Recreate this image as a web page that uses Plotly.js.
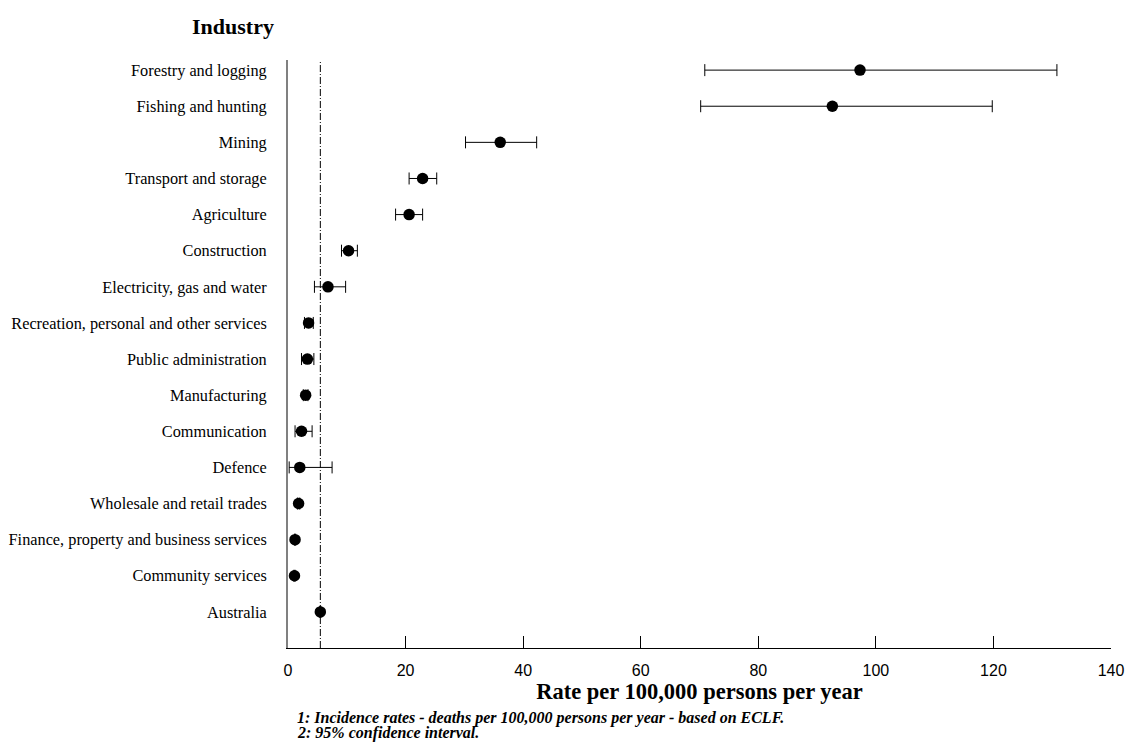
<!DOCTYPE html>
<html>
<head>
<meta charset="utf-8">
<script src="https://cdn.plot.ly/plotly-3.0.1.min.js"></script>
<style>
  html, body { margin: 0; padding: 0; background: #fff; }
  #chart { width: 1129px; height: 742px; }
</style>
</head>
<body>
<div id="chart"></div>
<script>
// Fatality incidence by industry, top to bottom as listed
const industries = [
  "Forestry and logging",
  "Fishing and hunting",
  "Mining",
  "Transport and storage",
  "Agriculture",
  "Construction",
  "Electricity, gas and water",
  "Recreation, personal and other services",
  "Public administration",
  "Manufacturing",
  "Communication",
  "Defence",
  "Wholesale and retail trades",
  "Finance, property and business services",
  "Community services",
  "Australia"
];
// Rate per 100,000 persons per year
const rates = [97.3, 92.6, 36.1, 22.9, 20.6, 10.3, 6.8, 3.5, 3.3, 3.0, 2.3, 2.0, 1.8, 1.2, 1.1, 5.5];
// 95% confidence interval bounds
const ciLower = [70.9, 70.2, 30.2, 20.6, 18.3, 9.1, 4.5, 2.8, 2.3, 2.6, 1.2, 0.2, 1.6, 1.1, 1.0, 5.4];
const ciUpper = [130.8, 119.8, 42.3, 25.3, 22.9, 11.8, 9.8, 4.3, 4.4, 3.4, 4.1, 7.5, 2.0, 1.3, 1.2, 5.6];
const xTicks = [0, 20, 40, 60, 80, 100, 120, 140];

const serif = "Liberation Serif, Times New Roman, serif";
const sans = "Liberation Sans, Arial, sans-serif";

const australiaRate = rates[industries.indexOf("Australia")];

const trace = {
  type: "scatter",
  mode: "markers",
  x: rates,
  y: industries,
  marker: { color: "#000", size: 11.5, line: { width: 0 } },
  error_x: {
    type: "data",
    symmetric: false,
    array: ciUpper.map((u, i) => u - rates[i]),
    arrayminus: ciLower.map((l, i) => rates[i] - l),
    color: "#000",
    thickness: 1,
    width: 6
  },
  hoverinfo: "x+y",
  showlegend: false
};

const layout = {
  width: 1129,
  height: 742,
  margin: { l: 288, r: 18, t: 60, b: 94 },
  paper_bgcolor: "#fff",
  plot_bgcolor: "#fff",
  xaxis: {
    range: [0, 140],
    tickvals: xTicks,
    ticktext: xTicks.map(String),
    ticks: "inside",
    ticklen: 12,
    tickwidth: 1,
    tickcolor: "#000",
    showline: true,
    linecolor: "#000",
    linewidth: 1,
    showgrid: false,
    zeroline: false,
    tickfont: { family: sans, size: 16, color: "#000" },
    ticklabelstandoff: 8,
    title: {
      text: "<b>Rate per 100,000 persons per year</b>",
      font: { family: serif, size: 22.5, color: "#000" },
      standoff: 2
    },
    automargin: false,
    fixedrange: true
  },
  yaxis: {
    type: "category",
    categoryorder: "array",
    categoryarray: industries.slice().reverse(),
    range: [-1, 15.28],
    showline: true,
    linecolor: "#808080",
    linewidth: 2,
    ticks: "",
    showgrid: false,
    zeroline: false,
    tickfont: { family: serif, size: 16.3, color: "#000" },
    ticklabelstandoff: 16,
    automargin: false,
    fixedrange: true
  },
  shapes: [{
    type: "line",
    xref: "x",
    yref: "paper",
    x0: australiaRate,
    x1: australiaRate,
    y0: 0,
    y1: 1,
    line: { color: "#000", width: 1, dash: "7px,2px,1px,2px" },
    layer: "below"
  }],
  annotations: [
    {
      text: "<b>Industry</b>",
      xref: "paper", yref: "paper",
      x: -0.0668, y: 1.0578,
      xanchor: "center", yanchor: "middle",
      showarrow: false,
      font: { family: serif, size: 22, color: "#000" }
    },
    {
      text: "<b><i>1: Incidence rates - deaths per 100,000 persons per year - based on ECLF.</i></b>",
      xref: "paper", yref: "paper",
      x: 0.0085, y: -0.119,
      xanchor: "left", yanchor: "middle",
      showarrow: false,
      font: { family: serif, size: 16, color: "#000" }
    },
    {
      text: "<b><i>2: 95% confidence interval.</i></b>",
      xref: "paper", yref: "paper",
      x: 0.0085, y: -0.1446,
      xanchor: "left", yanchor: "middle",
      showarrow: false,
      font: { family: serif, size: 16, color: "#000" }
    }
  ]
};

Plotly.newPlot("chart", [trace], layout, { displayModeBar: false, staticPlot: true });
</script>
</body>
</html>
